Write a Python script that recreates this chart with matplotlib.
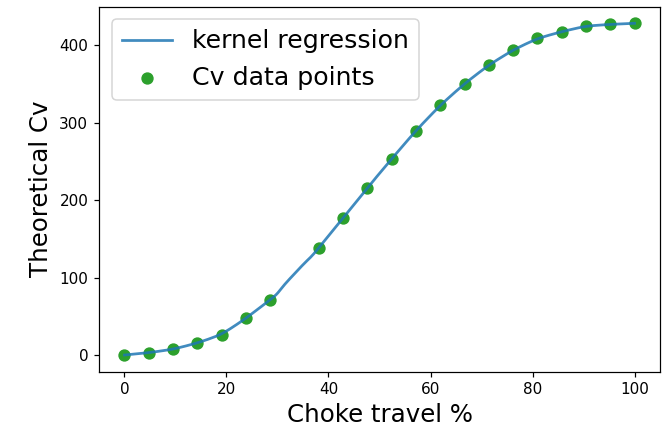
import numpy as np
import matplotlib
matplotlib.use("Agg")
import matplotlib.pyplot as plt

# choke travel (%) and theoretical Cv at each measured opening
travel = [0.0, 4.76, 9.52, 14.29, 19.05, 23.81, 28.57, 38.10, 42.86, 47.62,
          52.38, 57.14, 61.90, 66.67, 71.43, 76.19, 80.95, 85.71, 90.48,
          95.24, 100.0]
cv = [0.0, 3.0, 7.3, 15.5, 26.2, 47.3, 71.4, 138.5, 177.2, 215.9,
      253.3, 289.9, 322.6, 350.5, 374.6, 394.0, 409.0, 417.6, 425.0,
      427.0, 428.4]

BANDWIDTH = 2.5


def local_linear(x, y, grid, h):
    """Gaussian-kernel local linear regression evaluated on grid."""
    x = np.asarray(x)
    y = np.asarray(y)
    out = np.empty_like(grid)
    for i, g in enumerate(grid):
        w = np.exp(-0.5 * ((x - g) / h) ** 2)
        d = x - g
        s0, s1, s2 = w.sum(), (w * d).sum(), (w * d * d).sum()
        t0, t1 = (w * y).sum(), (w * d * y).sum()
        out[i] = (s2 * t0 - s1 * t1) / (s0 * s2 - s1 * s1)
    return out


grid = np.linspace(min(travel), max(travel), 300)
fit = local_linear(travel, cv, grid, BANDWIDTH)

DPI = 110
fig = plt.figure(figsize=(663 / DPI, 430 / DPI), dpi=DPI)
ax = fig.add_axes([0.1493, 0.1358, 0.8462, 0.8486])

ax.scatter(travel, cv, s=50, color="tab:green", label="Cv data points", zorder=2)
ax.plot(grid, fit, color="tab:blue", lw=1.8, alpha=0.85,
        label="kernel regression", zorder=3)

ax.set_xlabel("Choke travel %", fontsize=16)
ax.set_ylabel("Theoretical Cv", fontsize=16)
ax.tick_params(labelsize=10)

handles, labels = ax.get_legend_handles_labels()
ax.legend(handles[::-1], labels[::-1], loc="upper left", fontsize=16.5)

fig.savefig("out.png", dpi=DPI)
